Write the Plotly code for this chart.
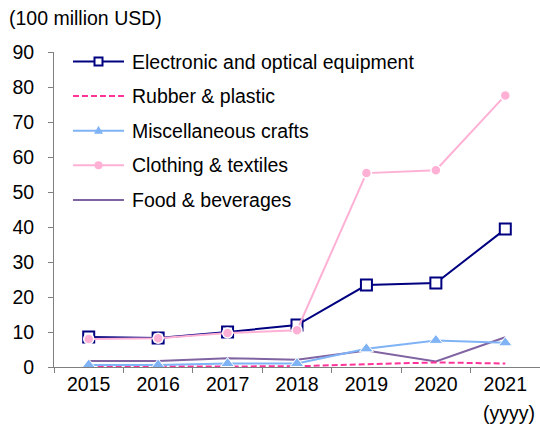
import plotly.graph_objects as go

years = ["2015", "2016", "2017", "2018", "2019", "2020", "2021"]
electronic = [8.6, 8.3, 10.0, 12.0, 23.4, 24.0, 39.4]
rubber = [0.1, 0.1, 0.1, 0.2, 0.8, 1.3, 1.0]
misc = [0.6, 0.6, 1.0, 1.0, 5.2, 7.6, 6.9]
clothing = [8.0, 8.2, 9.7, 10.5, 55.4, 56.2, 77.6]
food = [1.7, 1.7, 2.5, 2.1, 4.7, 1.6, 8.5]
yticks = [0, 10, 20, 30, 40, 50, 60, 70, 80, 90]

C_EL = "#000080"
C_RU = "#FF3399"
C_MI = "#7FB3F5"
C_CL = "#FFB0D5"
C_FO = "#8064A2"
FONT = "Liberation Sans, Arial, sans-serif"
FS = 19.5

W, H = 540, 428
L, R, T, B = 54, 0, 52, 61
PW, PH = W - L - R, H - T - B

fig = go.Figure()
fig.add_trace(go.Scatter(x=years, y=food, mode="lines", line=dict(color=C_FO, width=2), name="Food & beverages"))
fig.add_trace(go.Scatter(x=years, y=rubber, mode="lines", line=dict(color=C_RU, width=2, dash="6px,3px"), name="Rubber & plastic"))
fig.add_trace(go.Scatter(x=years, y=misc, mode="lines+markers", line=dict(color=C_MI, width=2),
                         marker=dict(symbol="triangle-up", size=12, color=C_MI, line=dict(color="white", width=1)),
                         name="Miscellaneous crafts"))
fig.add_trace(go.Scatter(x=years, y=electronic, mode="lines+markers", line=dict(color=C_EL, width=2),
                         marker=dict(symbol="square", size=11, color="white", line=dict(color=C_EL, width=2)),
                         name="Electronic and optical equipment"))
fig.add_trace(go.Scatter(x=years, y=clothing, mode="lines+markers", line=dict(color=C_CL, width=2),
                         marker=dict(symbol="circle", size=10, color=C_CL, line=dict(color="white", width=1.5)),
                         name="Clothing & textiles"))


def px2paper(px, py):
    return (px - L) / PW, (H - B - py) / PH


legend_items = [
    ("Electronic and optical equipment", C_EL, "solid", "square"),
    ("Rubber & plastic", C_RU, "6px,3px", None),
    ("Miscellaneous crafts", C_MI, "solid", "triangle"),
    ("Clothing & textiles", C_CL, "solid", "circle"),
    ("Food & beverages", C_FO, "solid", None),
]
shapes = []
annotations = []
row0, step = 61.5, 34.6
for i, (name, col, dash, mk) in enumerate(legend_items):
    py = row0 + i * step
    x0, y0 = px2paper(73, py)
    x1, _ = px2paper(124, py)
    shapes.append(dict(type="line", xref="paper", yref="paper", x0=x0, x1=x1, y0=y0, y1=y0,
                       line=dict(color=col, width=2, dash=dash)))
    cx = 98.5
    if mk == "square":
        a0, b0 = px2paper(cx - 4, py - 4)
        a1, b1 = px2paper(cx + 4, py + 4)
        shapes.append(dict(type="rect", xref="paper", yref="paper", x0=a0, x1=a1, y0=b0, y1=b1,
                           fillcolor="white", line=dict(color=C_EL, width=2)))
    elif mk == "circle":
        a0, b0 = px2paper(cx - 4, py - 4)
        a1, b1 = px2paper(cx + 4, py + 4)
        shapes.append(dict(type="circle", xref="paper", yref="paper", x0=a0, x1=a1, y0=b0, y1=b1,
                           fillcolor=col, line=dict(color=col, width=0)))
    elif mk == "triangle":
        p1 = px2paper(cx, py - 5)
        p2 = px2paper(cx - 4.5, py + 3)
        p3 = px2paper(cx + 4.5, py + 3)
        path = f"M {p1[0]},{p1[1]} L {p2[0]},{p2[1]} L {p3[0]},{p3[1]} Z"
        shapes.append(dict(type="path", xref="paper", yref="paper", path=path,
                           fillcolor=col, line=dict(color=col, width=0)))
    tx, ty = px2paper(130, py)
    annotations.append(dict(text=name, xref="paper", yref="paper", x=tx, y=ty, xanchor="left", yanchor="middle",
                            showarrow=False, font=dict(size=FS, color="#000000", family=FONT)))

ax, ay = px2paper(7, 18)
annotations.append(dict(text="(100 million USD)", xref="paper", yref="paper", x=ax, y=ay, xanchor="left",
                        yanchor="middle", showarrow=False, font=dict(size=FS, color="#000000", family=FONT)))
bx, by = px2paper(509, 413)
annotations.append(dict(text="(yyyy)", xref="paper", yref="paper", x=bx, y=by, xanchor="center",
                        yanchor="middle", showarrow=False, font=dict(size=FS, color="#000000", family=FONT)))

fig.update_layout(
    width=W, height=H,
    margin=dict(l=L, r=R, t=T, b=B),
    paper_bgcolor="white", plot_bgcolor="white",
    showlegend=False,
    font=dict(family=FONT, size=FS, color="#000000"),
    shapes=shapes, annotations=annotations,
    xaxis=dict(type="category", range=[-0.5, 6.5], showgrid=False, showline=True, linecolor="#7f7f7f",
               linewidth=1, ticks="outside", ticklen=5, tickcolor="#7f7f7f", tickson="boundaries",
               tickfont=dict(size=FS, family=FONT), zeroline=False),
    yaxis=dict(range=[0, 90], tickvals=yticks, showgrid=False, showline=True, linecolor="#7f7f7f",
               linewidth=1, ticks="outside", ticklen=5, tickcolor="#7f7f7f", zeroline=False,
               tickfont=dict(size=FS, family=FONT), ticklabelstandoff=10),
)

fig.write_html("out.html")
